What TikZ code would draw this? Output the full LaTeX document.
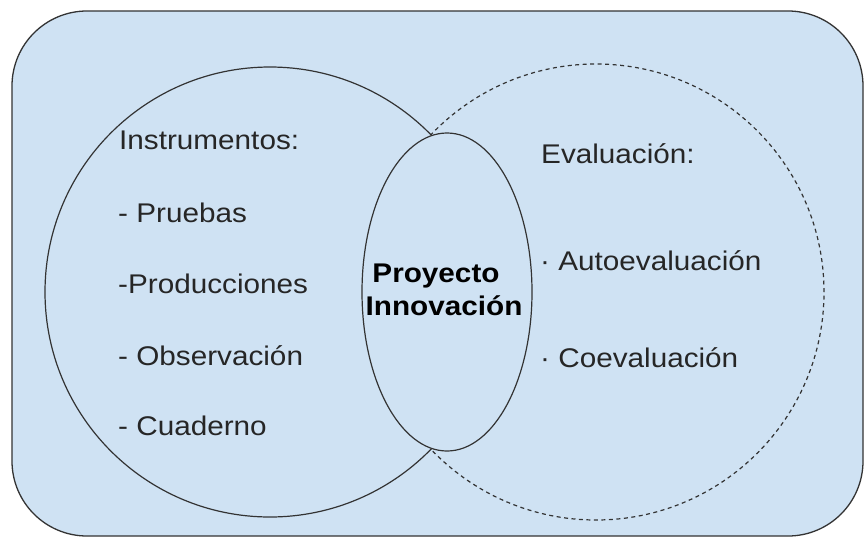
\documentclass[tikz,border=0pt]{standalone}
\usepackage{fontspec}
\setmainfont[FakeStretch=1.1]{Liberation Sans}
\usetikzlibrary{shapes.geometric}
\definecolor{bgblue}{HTML}{CFE2F3}
\definecolor{edge}{HTML}{333333}
\tikzset{
  venn/.style={circle, draw=edge, line width=1.2pt, fill=bgblue, inner sep=0pt},
  txt/.style={anchor=base west, inner sep=0pt, font=\fontsize{27}{32}\selectfont, text=black!85},
  btxt/.style={align=center, inner sep=0pt, font=\fontsize{27}{33}\selectfont\bfseries, text=black}
}
\begin{document}
\begin{tikzpicture}[x=1pt,y=-1pt]
\useasboundingbox (0,0) rectangle (865,539);
\draw[draw=edge, line width=1.3pt, fill=bgblue, rounded corners=75pt] (12,11) rectangle (863,536);
\node (eval) [venn, dashed, dash pattern=on 4pt off 3.5pt, minimum size=456pt] at (596,292) {};
\node (instr) [venn, minimum size=450pt] at (270,292) {};
\node (proy) [ellipse, draw=edge, line width=1.2pt, fill=bgblue, minimum width=170pt, minimum height=318pt, inner sep=0pt] at (447,292) {};
\node (t1) [txt] at (119,149) {Instrumentos:};
\node (t2) [txt] at (118,222) {- Pruebas};
\node (t3) [txt] at (118,293) {-Producciones};
\node (t4) [txt] at (118,365) {- Observación};
\node (t5) [txt] at (118,435) {- Cuaderno};
\node (e1) [txt] at (541,163) {Evaluación:};
\node (e2) [txt] at (540,270) {· Autoevaluación};
\node (e3) [txt] at (540,367) {· Coevaluación};
\node (p1) [btxt, anchor=center] at (444,290) {Proyecto\hspace*{16pt}\\Innovación};
\end{tikzpicture}
\end{document}
